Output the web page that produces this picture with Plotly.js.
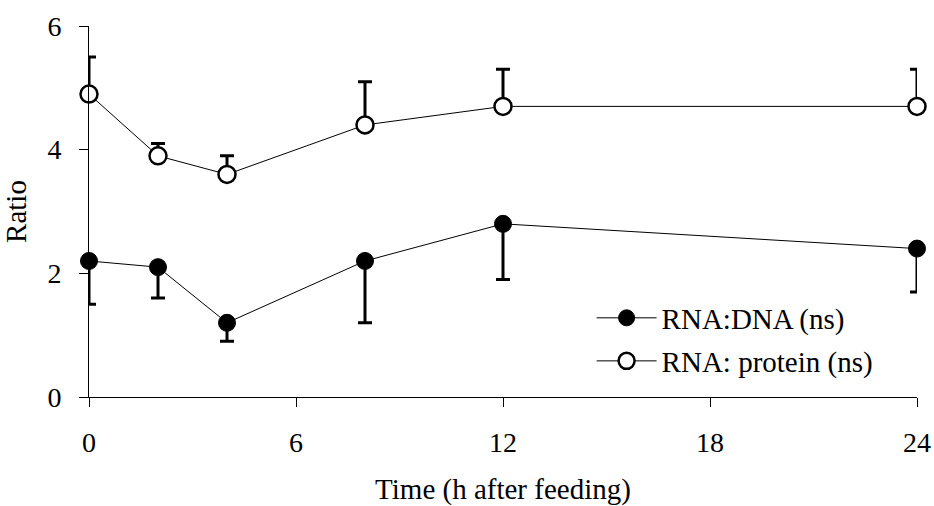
<!DOCTYPE html>
<html>
<head>
<meta charset="utf-8">
<script src="https://cdn.plot.ly/plotly-3.0.1.min.js"></script>
<style>html,body{margin:0;padding:0;background:#fff;}#chart{width:934px;height:506px;}</style>
</head>
<body>
<div id="chart"></div>
<script>
const hours = [0, 2, 4, 8, 12, 24];
const rnaDna = [2.2, 2.1, 1.2, 2.2, 2.8, 2.4];
const rnaDnaErr = [0.7, 0.5, 0.3, 1.0, 0.9, 0.7];
const rnaProtein = [4.9, 3.9, 3.6, 4.4, 4.7, 4.7];
const rnaProteinErr = [0.6, 0.2, 0.3, 0.7, 0.6, 0.6];
const zeros = hours.map(() => 0);
const xTicks = [0, 6, 12, 18, 24];
const yTicks = [0, 2, 4, 6];

const FONT = 'Liberation Serif, Times New Roman, serif';

const traces = [
  {
    x: hours, y: rnaDna, name: 'RNA:DNA (ns)', type: 'scatter', mode: 'lines+markers',
    line: {color: '#000', width: 1},
    marker: {symbol: 'circle', size: 17, color: '#000', line: {color: '#000', width: 1}},
    error_y: {type: 'data', symmetric: false, array: zeros, arrayminus: rnaDnaErr,
              color: '#000', thickness: 3, width: 7},
    cliponaxis: false, legend: 'legend'
  },
  {
    x: hours, y: rnaProtein, name: 'RNA: protein (ns)', type: 'scatter', mode: 'lines+markers',
    line: {color: '#000', width: 1},
    marker: {symbol: 'circle', size: 17, color: '#fff', line: {color: '#000', width: 2.5}},
    error_y: {type: 'data', symmetric: false, array: rnaProteinErr, arrayminus: zeros,
              color: '#000', thickness: 3, width: 7},
    cliponaxis: false, legend: 'legend2'
  }
];

const legendCommon = {
  font: {family: FONT, size: 29, color: '#000'},
  bgcolor: 'rgba(0,0,0,0)', borderwidth: 0,
  xanchor: 'left', yanchor: 'middle', itemwidth: 60
};

const layout = {
  width: 934, height: 506,
  margin: {l: 89, r: 17, t: 26, b: 109},
  paper_bgcolor: '#fff', plot_bgcolor: '#fff',
  font: {family: FONT, size: 28, color: '#000'},
  showlegend: true,
  legend: Object.assign({x: 0.607, y: 0.213}, legendCommon),
  legend2: Object.assign({x: 0.607, y: 0.097}, legendCommon),
  xaxis: {
    range: [0, 24], tickvals: xTicks, ticktext: xTicks.map(String),
    tickfont: {family: FONT, size: 28, color: '#000'},
    ticks: 'outside', ticklen: 9, tickwidth: 1, tickcolor: '#000',
    showline: true, linecolor: '#000', linewidth: 1,
    showgrid: false, zeroline: false, ticklabelstandoff: 11,
    title: {text: 'Time (h after feeding)', font: {family: FONT, size: 29}, standoff: 25}
  },
  yaxis: {
    range: [0, 6], tickvals: yTicks, ticktext: yTicks.map(String),
    tickfont: {family: FONT, size: 28, color: '#000'},
    ticks: 'outside', ticklen: 9, tickwidth: 1, tickcolor: '#000',
    showline: true, linecolor: '#000', linewidth: 1,
    showgrid: false, zeroline: false, ticklabelstandoff: 12,
    title: {text: 'Ratio', font: {family: FONT, size: 29}, standoff: 13}
  }
};

Plotly.newPlot('chart', traces, layout, {displayModeBar: false, staticPlot: true});
</script>
</body>
</html>
